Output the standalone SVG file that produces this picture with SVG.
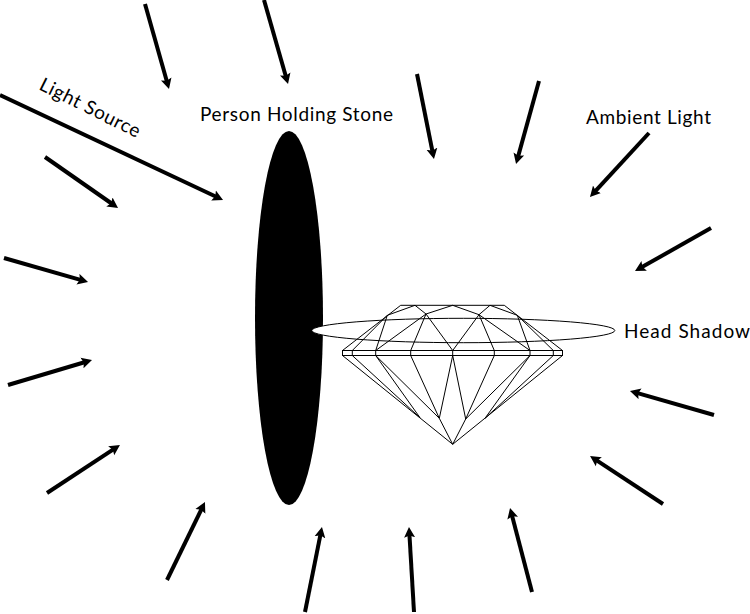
<svg xmlns="http://www.w3.org/2000/svg" width="750" height="614" viewBox="0 0 750 614">
<style>
text { font-family: "Lato", "Liberation Sans", sans-serif; font-size: 19px; font-weight: 400; fill: #000; }
.ray { stroke: #000; stroke-width: 4; fill: none; marker-end: url(#head); }
.facet { stroke: #000; stroke-width: 1; fill: none; }
</style>
<defs>
<marker id="head" markerUnits="userSpaceOnUse" markerWidth="12" markerHeight="12" refX="3.500" refY="6" orient="auto">
<path d="M0 0.500L10.500 6L0 11.500L2 6Z" fill="#000"/>
</marker>
</defs>
<rect width="750" height="614" fill="#fff"/>
<g id="person"><ellipse cx="289" cy="318" rx="34" ry="187" fill="#000"/></g>
<g id="head-shadow"><ellipse cx="463.300" cy="330.500" rx="151.500" ry="12.200" fill="#fff" stroke="#000" stroke-width="1"/></g>
<g id="diamond">
<rect class="facet" x="342.500" y="350.500" width="220" height="5"/>
<path class="facet" d="M400.700 305.300H504.300M342.500 350.500L400.700 305.300M562.500 350.500L504.300 305.300M352.300 350.500L387.300 315.300L415 305.300L426 314L452.700 305.300L479 314.700L490 305.300L517.300 315.300L553.300 350.500M387.300 315.300L375.700 350.500M426 314L375.700 350.500M426 314L410.700 350.500M426 314L452.700 350.500M479 314.700L452.700 350.500M479 314.700L494.300 350.500M479 314.700L530 350.500M517.300 315.300L530 350.500"/>
<path class="facet" d="M352.300 350.500V355.500M375.700 350.500V355.500M410.700 350.500V355.500M452.700 350.500V355.500M494.300 350.500V355.500M530 350.500V355.500M553.300 350.500V355.500"/>
<path class="facet" d="M342.500 355.500L452.700 444.300L562.500 355.500M352.300 355.500L420 417.700L375.700 355.500M375.700 355.500L439.300 418.300L410.700 355.500M452.700 355.500L439.300 418.300L452.700 444.300L465.700 419L452.700 355.500M494.300 355.500L465.700 419L530 355.500M530 355.500L485 418.300L553.300 355.500"/>
</g>
<g id="connectors">
<line class="ray" x1="0" y1="95" x2="216.700" y2="197"/>
<line class="ray" x1="145" y1="4" x2="167.100" y2="82.300"/>
<line class="ray" x1="264" y1="0" x2="286.100" y2="77.300"/>
<line class="ray" x1="417" y1="74" x2="432.600" y2="152.100"/>
<line class="ray" x1="539" y1="81" x2="517.900" y2="157.300"/>
<line class="ray" x1="649" y1="133" x2="594.700" y2="191.900"/>
<line class="ray" x1="711" y1="228" x2="641.100" y2="267.600"/>
<line class="ray" x1="714" y1="415" x2="636.700" y2="392.900"/>
<line class="ray" x1="663" y1="504" x2="595.900" y2="459.800"/>
<line class="ray" x1="532" y1="592" x2="511.800" y2="514.800"/>
<line class="ray" x1="414" y1="612" x2="409.400" y2="534"/>
<line class="ray" x1="305" y1="612" x2="320.600" y2="533.900"/>
<line class="ray" x1="167" y1="580" x2="201.900" y2="508.300"/>
<line class="ray" x1="47" y1="493" x2="114.100" y2="448.800"/>
<line class="ray" x1="8" y1="385" x2="85.300" y2="362"/>
<line class="ray" x1="4" y1="258" x2="81.300" y2="280.100"/>
<line class="ray" x1="45" y1="157" x2="112.300" y2="204"/>
</g>
<text x="200" y="121" textLength="193">Person Holding Stone</text>
<text x="586" y="124" textLength="125">Ambient Light</text>
<text x="624" y="338" textLength="126">Head Shadow</text>
<text transform="translate(38 89) rotate(26.500)" font-size="18" textLength="110">Light Source</text>
</svg>
